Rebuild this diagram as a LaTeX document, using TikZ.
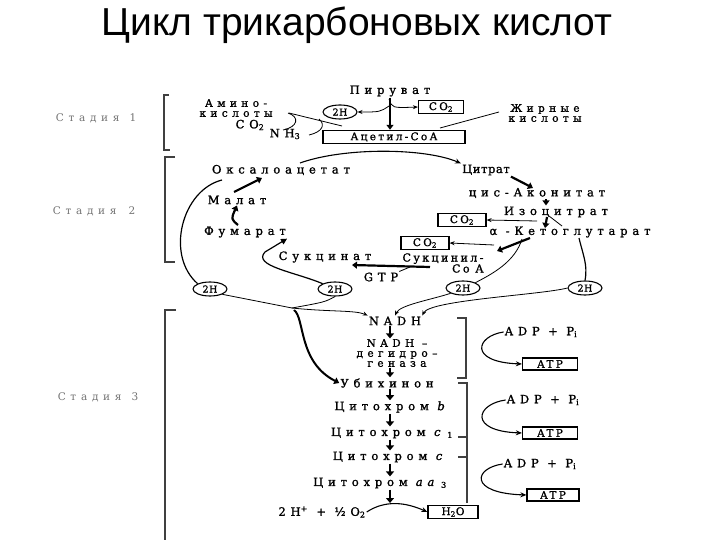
\documentclass[tikz,border=0pt]{standalone}
\usepackage{fontspec}
\setmainfont{DejaVu Serif}
\newfontfamily\wsp[LetterSpace=42,FakeBold=1.3]{DejaVu Serif}
\newfontfamily\msp[LetterSpace=22,FakeBold=1.3]{DejaVu Serif}
\newfontfamily\tsp[LetterSpace=5,FakeBold=1.3]{DejaVu Serif}
\newfontfamily\gsp[LetterSpace=45]{DejaVu Serif}
\newfontfamily\ttlfont{Liberation Sans}
\usetikzlibrary{arrows.meta,shapes.geometric}
\begin{document}
\begin{tikzpicture}[x=1pt,y=-1pt,
  lbl/.style={font=\wsp\fontsize{11.5}{9}\selectfont, inner sep=1pt},
  mll/.style={font=\wsp\fontsize{10.5}{10}\selectfont, inner sep=0.5pt, align=center},
  mlbl/.style={font=\msp\fontsize{11}{11}\selectfont, inner sep=1pt},
  tlbl/.style={font=\tsp\fontsize{11.5}{10}\selectfont, inner sep=1pt},
  stg/.style={font=\gsp\fontsize{10.5}{10}\selectfont, text=black!55, inner sep=1pt},
  bx/.style={draw, line width=1.2pt, font=\msp\fontsize{10.5}{10}\selectfont, minimum height=13pt, inner sep=2pt},
  hh/.style={draw, ellipse, line width=1.1pt, font=\tsp\fontsize{9.5}{9}\selectfont, minimum width=34pt, minimum height=14pt, inner sep=0pt},
  brk/.style={draw, line width=1.6pt, black!75},
  ln/.style={draw, line width=0.8pt},
  mid/.style={draw, line width=1.2pt},
  tar/.style={draw, line width=0.8pt, -{Stealth[length=5pt,width=4pt]}},
  car/.style={draw, line width=1.1pt, -{Stealth[length=6pt,width=5pt]}},
  thk/.style={draw, line width=2.2pt, -{Triangle[length=5pt,width=7pt]}},
  dar/.style={draw, line width=2.6pt, -{Triangle[length=5pt,width=8pt]}}
]
\useasboundingbox[fill=white] (0,0) rectangle (720,540);

% title
\node[font=\ttlfont\fontsize{39}{44}\selectfont, anchor=base, inner sep=0pt] (title) at (357,36) {Цикл трикарбоновых кислот};

% stage labels and brackets
\node[stg] (s1) at (96,118) {Стадия\hspace{10pt}1};
\node[stg] (s2) at (94,211) {Стадия\hspace{12pt}2};
\node[stg] (s3) at (98,397) {Стадия\hspace{10pt}3};
\draw[brk] (169,95) -- (164,95) -- (164,150) -- (170,150);
\draw[brk] (175,157) -- (165,157) -- (165,262) -- (175,262);
\draw[brk] (176,310) -- (165,310) -- (165,545);

% ---------- stage 1
\node[lbl] (pir) at (390,91) {Пируват};
\node[hh] (h0) at (340,112) {2H};
\node[bx, minimum width=45pt] (co2a) at (441,107) {CO\textsubscript{2}};
\node[bx, minimum width=142pt, minimum height=12pt] (acet) at (394,137) {Ацетил-СоА};
\node[mll] (amino) at (236,108) {Амино-\\кислоты};
\node[lbl] (co2b) at (250,125) {CO\textsubscript{2}};
\node[lbl] (nh3) at (285,134) {NH\textsubscript{3}};
\node[mll] (fat) at (545,113) {Жирные\\кислоты};

\coordinate (jl) at (389,106);
\coordinate (jr) at (389,99);
\draw[thk] (pir.south) -- (pir.south |- acet.north);
\draw[tar] (jl) .. controls (380,112) .. (h0.east);
\draw[tar] (jr) .. controls (392,108) .. (co2a.west);
\coordinate (am1) at (289,113);
\coordinate (am2) at (342,126);
\draw[ln] (am1) -- (am2);
\draw[ln] (288,113) .. controls (300,117) and (298,127) .. (283,130);
\draw[ln] (319,119) .. controls (326,125) and (322,132) .. (309,135);
\coordinate (fa1) at (499,112);
\coordinate (fa2) at (440,128);
\draw[ln] (fa1) -- (fa2);

% ---------- stage 2
\node[lbl] (oxa) at (281,170) {Оксалоацетат};
\node[tlbl] (cit) at (486,170) {Цитрат};
\node[lbl] (cis) at (537,193) {цис-Аконитат};
\node[lbl] (iso) at (556,212) {Изоцитрат};
\node[lbl] (akg) at (570,232) {α -Кетоглутарат};
\node[bx, minimum width=48pt] (co2c) at (462,220) {CO\textsubscript{2}};
\node[bx, minimum width=48pt] (co2d) at (425,243) {CO\textsubscript{2}};
\node[mlbl, align=right] (scoa) at (443,263) {Сукцинил-\\Co A};
\node[lbl] (succ) at (325,257) {Сукцинат};
\node[lbl] (gtp) at (381,277) {GTP};
\node[lbl] (fum) at (245,232) {Фумарат};
\node[lbl] (mal) at (237,200) {Малат};
\node[hh] (h1) at (210,289) {2H};
\node[hh] (h2) at (335,289) {2H};
\node[hh] (h3) at (463,288) {2H};
\node[hh] (h4) at (585,288) {2H};

\coordinate (arc0) at (300,163);
\draw[car] (arc0) .. controls (345,147) and (425,148) .. (cit.north west);
\draw[thk] (cit.south east) -- (533,188);
\draw[thk] (cis.south) ++(9,0) coordinate (c1) -- (c1 |- iso.north);
\draw[thk] (547,217) -- (545,228);
\draw[tar] (537,221) -- (co2c.east);
\draw[ln] (549,216) -- (562,226);
\draw[mid] (579,238) .. controls (583,255) and (588,265) .. (h4.north);
\draw[thk] (530,238) -- (497,251);
\draw[tar] (494,245) -- (co2d.east);
\draw[ln] (522,239) .. controls (515,262) and (492,274) .. (h3.north east);
\draw[thk] (430,267) -- (352,265);
\draw[ln] (410,267) -- (gtp.north east);
\draw[mid, -{Triangle[length=6pt,width=6pt]}] (h2.north west) .. controls (295,272) and (252,266) .. (265,252) -- (fum.south east);
\draw[thk] (238,225) .. controls (231,219) .. (mal.south);
\draw[thk] (234,192) -- (262,178);
\draw[mid] (222,180) .. controls (182,190) and (165,255) .. (h1.north west);

\coordinate (jn) at (292,308);
\draw[ln] (h1.south east) -- (jn);
\draw[ln] (h2.south) .. controls (325,302) .. (jn);

% ---------- stage 3
\coordinate (ax) at (390,0);
\node[lbl] (nadh) at (395,321) {NADH};
\node[mll] (deh) at (397,353) {NADH –\\дегидро–\\геназа};
\node[lbl] (ubi) at (387,383) {Убихинон};
\node[lbl] (cb) at (392,407) {Цитохром \textit{b}};
\node[lbl] (cc1) at (392,433) {Цитохром \textit{c}\,\textsubscript{1}};
\node[lbl] (cc) at (390,457) {Цитохром \textit{c}};
\node[lbl] (caa) at (380,483) {Цитохром\hspace{8pt}\textit{aa}\,\textsubscript{3}};
\node[lbl] (o2) at (322,512) {2H\textsuperscript{+} + ½O\textsubscript{2}};
\node[bx, minimum width=50pt] (h2o) at (453,512) {H\textsubscript{2}O};

\draw[tar] (jn) .. controls (330,312) and (355,310) .. (nadh.north west);
\draw[line width=2pt, -{Triangle[length=5pt,width=7pt]}] (294,310) .. controls (305,318) and (298,362) .. (ubi.west);
\draw[tar] (h3.south west) .. controls (430,300) and (400,305) .. (nadh.north);
\draw[tar] (h4.west) .. controls (540,295) and (430,300) .. (nadh.north east);

\draw[dar] (nadh.south -| ax) -- (deh.north -| ax);
\draw[dar] (deh.south -| ax) -- (ubi.north -| ax);
\draw[dar] (ubi.south -| ax) -- (cb.north -| ax);
\draw[dar] (cb.south -| ax) -- (cc1.north -| ax);
\draw[dar] (cc1.south -| ax) -- (cc.north -| ax);
\draw[dar] (cc.south -| ax) -- (caa.north -| ax);
\draw[dar] (caa.south -| ax) -- (390,503);
\draw[car] (o2.east) .. controls (385,500) and (405,502) .. (h2o.west);

\draw[brk] (457,318) -- (466,318) -- (466,378) -- (457,378);
\draw[brk] (458,383) -- (467,383) -- (467,503);
\draw[brk] (458,437) -- (467,437);
\draw[brk] (458,457) -- (467,457);

\node[lbl] (adp1) at (541,332) {ADP + P\textsubscript{i}};
\node[lbl] (adp2) at (543,400) {ADP + P\textsubscript{i}};
\node[lbl] (adp3) at (540,464) {ADP + P\textsubscript{i}};
\node[bx, minimum width=55pt, minimum height=12pt] (atp1) at (550,364) {ATP};
\node[bx, minimum width=55pt, minimum height=12pt] (atp2) at (550,433) {ATP};
\node[bx, minimum width=52pt, minimum height=12pt] (atp3) at (553,495) {ATP};
\draw[car] (adp1.west) .. controls (476,336) and (468,362) .. (atp1.west);
\draw[car] (adp2.west) .. controls (476,404) and (468,431) .. (atp2.west);
\draw[car] (adp3.west) .. controls (474,468) and (468,493) .. (atp3.west);
\end{tikzpicture}
\end{document}
